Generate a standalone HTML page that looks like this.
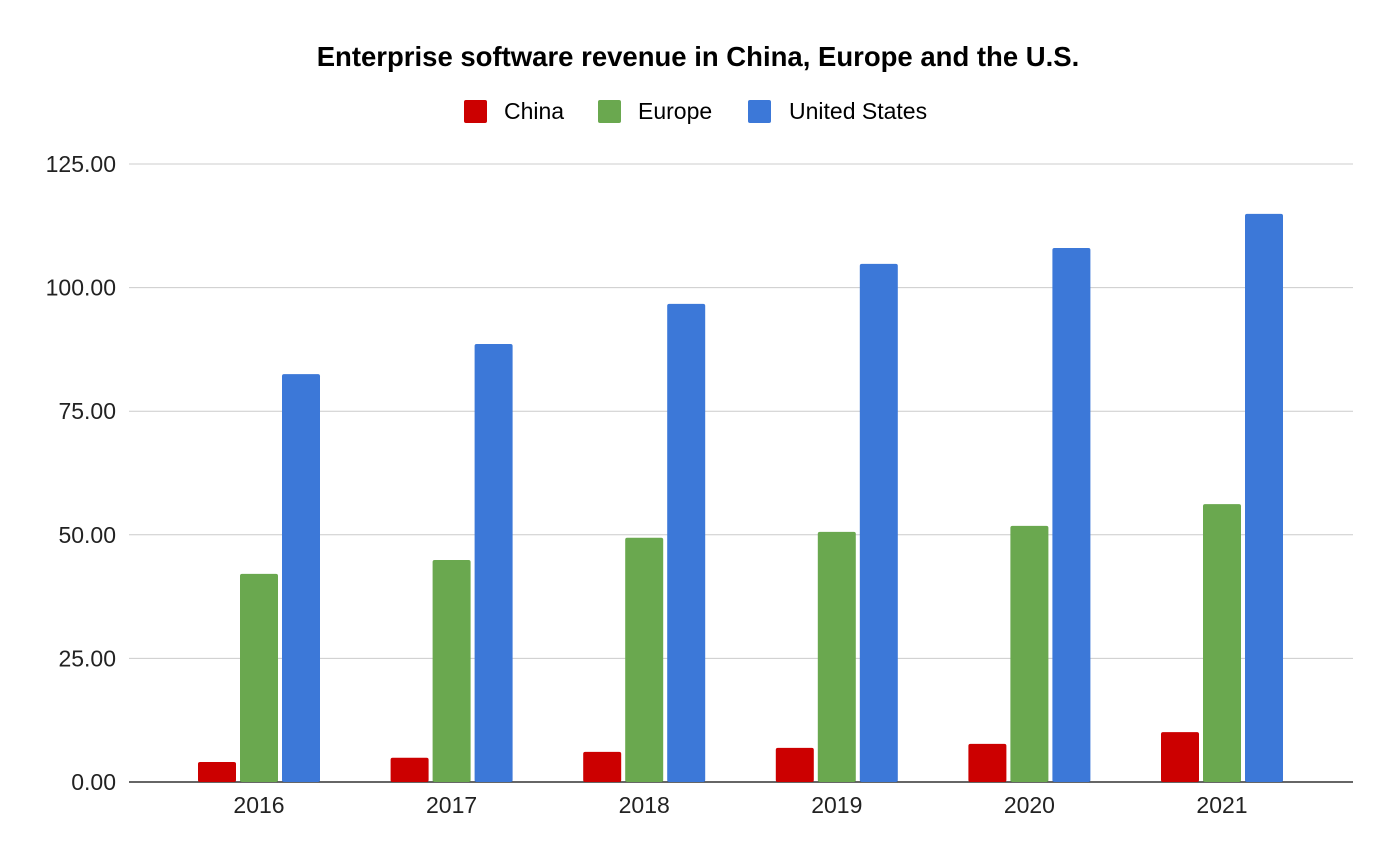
<!DOCTYPE html>
<html><head><meta charset="utf-8"><style>
body{margin:0;background:#fff;font-family:"Liberation Sans",Arial,sans-serif}
svg{display:block}
</style></head><body>
<svg id="chart" width="1396" height="862">
<rect width="1396" height="862" fill="#fff"/>
<text x="698" y="66" text-anchor="middle" font-size="27.5" font-weight="bold" fill="#000">Enterprise software revenue in China, Europe and the U.S.</text>
<g>
<g><rect x="464" y="100" width="23" height="23" rx="2" fill="#cc0000"/><text x="504" y="119" font-size="23">China</text></g>
<g><rect x="598" y="100" width="23" height="23" rx="2" fill="#6aa84f"/><text x="638" y="119" font-size="23">Europe</text></g>
<g><rect x="748" y="100" width="23" height="23" rx="2" fill="#3c78d8"/><text x="789" y="119" font-size="23">United States</text></g>
</g>
<g id="grid"></g><g id="bars"></g><g id="labels"></g>
</svg>
<script>
const categories=["2016","2017","2018","2019","2020","2021"];
const china=[4.05,4.9,6.1,6.9,7.7,10.1];
const europe=[42.1,44.9,49.4,50.6,51.8,56.2];
const us=[82.5,88.6,96.7,104.8,108.0,114.9];
const yTicks=[0,25,50,75,100,125];
const yTickLabels=["0.00","25.00","50.00","75.00","100.00","125.00"];
const NS="http://www.w3.org/2000/svg";
const y=v=>782-v*(618/125);
const xc=i=>259+i*192.6;
function mk(t,a,p){const e=document.createElementNS(NS,t);for(const k in a)e.setAttribute(k,a[k]);p.appendChild(e);return e;}
const grid=document.getElementById('grid'),bars=document.getElementById('bars'),labels=document.getElementById('labels');
yTicks.forEach((v,i)=>{
 const l=mk('line',{x1:129,x2:1353,y1:y(v),y2:y(v),stroke:i==0?'#333':'#ccc','stroke-width':i==0?1.5:1},grid);
 
 
 const t=mk('text',{x:116,y:y(v)+8,'text-anchor':'end','font-size':23,fill:'#222'},labels);
 t.textContent=yTickLabels[i];
 
 
});
const series=[[china,'#cc0000','china'],[europe,'#6aa84f','europe'],[us,'#3c78d8','us']];
categories.forEach((c,i)=>{
 series.forEach((s,j)=>{
  const x0=xc(i)-61+j*42;
  const r=mk('rect',{x:x0,y:y(s[0][i]),width:38,height:782-y(s[0][i]),fill:s[1],rx:2},bars);
  
  
 });
 const t=mk('text',{x:xc(i),y:813,'text-anchor':'middle','font-size':23,fill:'#222'},labels);
 t.textContent=c;
 
 
});
</script>
</body></html>
